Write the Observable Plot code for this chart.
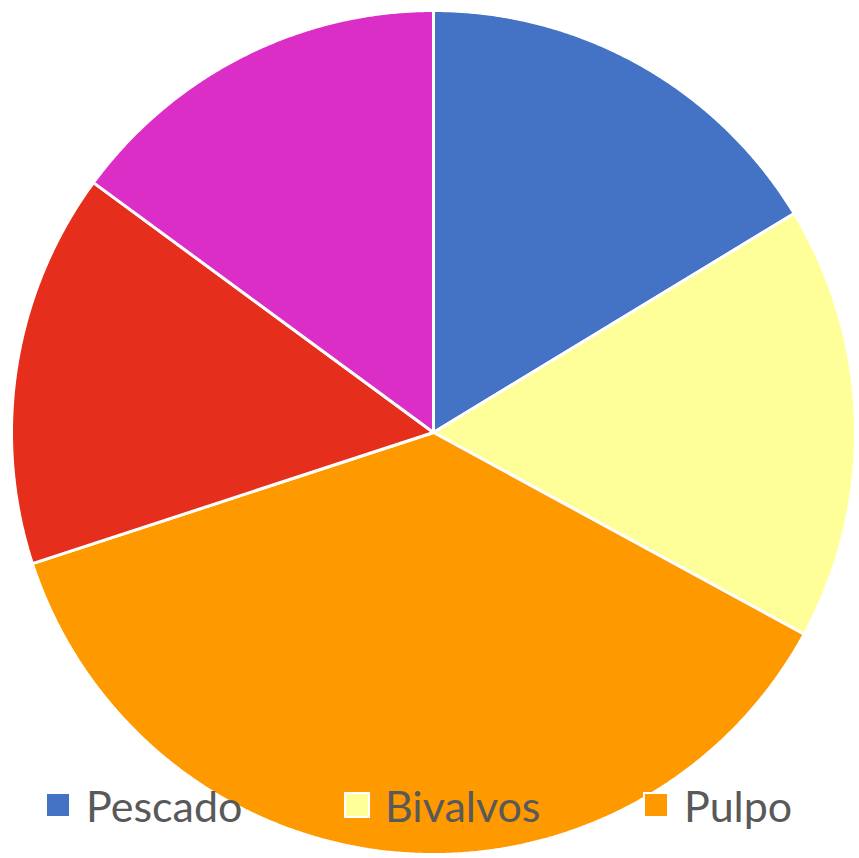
<!DOCTYPE html>
<html>
<head>
<meta charset="utf-8">
<script src="https://cdn.jsdelivr.net/npm/d3@7"></script>
<script src="https://cdn.jsdelivr.net/npm/@observablehq/plot@0.6"></script>
<style>
  html, body { margin: 0; padding: 0; background: #fff; }
  #wrap { position: relative; width: 859px; height: 858px; overflow: hidden; }
  #legend { position: absolute; left: 0; top: 780px; width: 859px; height: 50px; font-family: Lato, "Open Sans", sans-serif; font-size: 43px; color: #595959; }
  .item { position: absolute; top: 0; height: 50px; display: flex; align-items: center; white-space: nowrap; }
  .sw { width: 22px; height: 22px; box-sizing: content-box; border: 2px solid #fff; margin-right: 15px; }
</style>
</head>
<body>
<div id="wrap">
  <div id="chart"></div>
  <div id="legend"></div>
</div>
<script>
// Data
const categories = ["Pescado", "Bivalvos", "Pulpo", "Crustáceos", "Otros"];
const values = [16.3, 16.6, 37.0, 15.1, 14.9];
const colors = ["#4472C4", "#FFFF99", "#FF9900", "#E52E1B", "#DB2EC6"];
const legendItems = ["Pescado", "Bivalvos", "Pulpo"];

const table = categories.map((name, i) => ({name, value: values[i]}));
const arcs = d3.pie().value(d => d.value).sort(null)(table);

// Build slice outlines (center + arc samples) in unit coordinates
const points = [];
for (const a of arcs) {
  const name = a.data.name;
  points.push({name, x: 0, y: 0});
  const n = Math.max(2, Math.ceil((a.endAngle - a.startAngle) / 0.005));
  for (let k = 0; k <= n; k++) {
    const t = a.startAngle + (a.endAngle - a.startAngle) * k / n;
    points.push({name, x: Math.sin(t), y: Math.cos(t)});
  }
}

const chart = Plot.plot({
  width: 859,
  height: 858,
  margin: 0,
  x: {domain: [-1, 1], range: [11, 855], axis: null},
  y: {domain: [-1, 1], range: [854, 10], axis: null},
  color: {domain: categories, range: colors},
  style: {background: "white"},
  marks: [
    Plot.line(points, {
      x: "x", y: "y", z: "name", fill: "name",
      stroke: "white", strokeWidth: 3, curve: "linear-closed", strokeLinejoin: "miter"
    })
  ]
});
document.getElementById("chart").appendChild(chart);

const legend = document.getElementById("legend");
const lefts = [45, 344, 643];
legendItems.forEach((name, i) => {
  const it = document.createElement("div");
  it.className = "item";
  it.style.left = lefts[i] + "px";
  const sw = document.createElement("span");
  sw.className = "sw";
  sw.style.background = colors[categories.indexOf(name)];
  it.appendChild(sw);
  const tx = document.createElement("span");
  tx.textContent = name;
  it.appendChild(tx);
  legend.appendChild(it);
});
</script>
</body>
</html>
